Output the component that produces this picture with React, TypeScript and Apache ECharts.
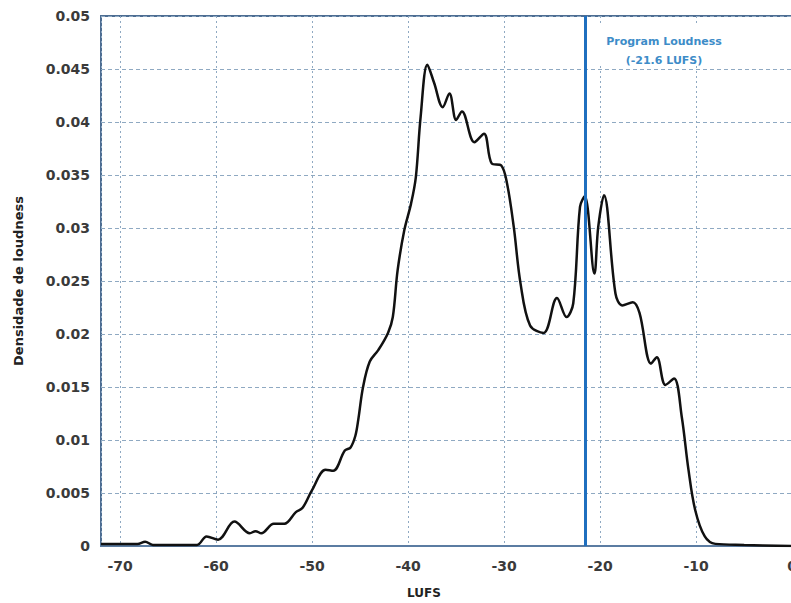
import React, { useEffect, useRef } from "react";
import * as echarts from "echarts";

const lufs = [
  -72, -70, -68.2, -67.4, -66.6, -64, -62, -61.0, -59.8, -58.1, -56.5, -55.9, -55.3, -54.0, -52.9,
  -51.7, -51.0, -50.0, -48.6, -47.8, -46.6, -46.0, -45.5, -45.2, -44.7, -44.0, -43.1, -42.1, -41.6,
  -41.1, -40.4, -39.7, -39.2, -38.7, -38.0, -37.3, -36.4, -35.7, -35.0, -34.4, -33.1, -32.1, -31.3,
  -30.3, -29.7, -29.0, -28.3, -27.3, -25.9, -24.5, -23.5, -22.8, -22.1, -21.6, -20.6, -20.2, -19.6,
  -18.4, -17.7, -16.6, -15.9, -14.7, -14.1, -13.2, -12.3, -11.5, -10.8, -10.1, -9.1, -8.0, -5, 0,
];
const density = [
  0.0002, 0.0002, 0.0002, 0.0004, 0.0001, 0.0001, 0.0001, 0.0009, 0.0006, 0.0023, 0.0012, 0.0014, 0.0012, 0.0021, 0.0021,
  0.0032, 0.0036, 0.0053, 0.0072, 0.0071, 0.009, 0.0093, 0.0104, 0.0119, 0.015, 0.0174, 0.0185, 0.0201, 0.0216,
  0.026, 0.0298, 0.0323, 0.0348, 0.0405, 0.0454, 0.0437, 0.0414, 0.0427, 0.0402, 0.041, 0.0381, 0.0389, 0.0361,
  0.0359, 0.0342, 0.0301, 0.0248, 0.0208, 0.0201, 0.0234, 0.0216, 0.0229, 0.032, 0.033, 0.0257, 0.0301, 0.0331,
  0.0238, 0.0227, 0.023, 0.022, 0.0172, 0.0178, 0.0152, 0.0158, 0.0122, 0.0072, 0.0034, 0.0009, 0.0002, 0.0001, 0.0,
];
const programLoudness = -21.6;
const annotationLines = ["Program Loudness", "(-21.6 LUFS)"];
const xTitle = "LUFS";
const yTitle = "Densidade de loudness";

export default function App() {
  const ref = useRef<HTMLDivElement>(null);
  useEffect(() => {
    if (!ref.current) return;
    const chart = echarts.init(ref.current, null, { renderer: "svg" });
    const font = "DejaVu Sans";
    chart.setOption({
      animation: false,
      backgroundColor: "#ffffff",
      grid: {
        left: 101,
        right: 2,
        top: 16,
        bottom: 57,
        show: true,
        borderColor: "#4d6d92",
        borderWidth: 2,
      },
      xAxis: {
        type: "value",
        min: -72,
        max: 0,
        axisLine: { show: true, lineStyle: { color: "#5b7ca2", width: 2 } },
        axisTick: { show: false },
        axisLabel: {
          showMinLabel: false,
          margin: 13,
          color: "#3a3a3a",
          fontFamily: font,
          fontWeight: "bold",
          fontSize: 14,
          formatter: (v: number) => (Math.round(v) % 10 === 0 ? String(Math.round(v)) : ""),
        },
        splitLine: {
          show: true,
          lineStyle: { color: "#8fa9c2", width: 1, type: [2, 3] },
        },
      },
      yAxis: {
        type: "value",
        min: 0,
        max: 0.05,
        interval: 0.005,
        name: yTitle,
        nameLocation: "middle",
        nameGap: 76,
        nameTextStyle: {
          fontFamily: font,
          fontWeight: "bold",
          fontSize: 13,
          color: "#222222",
        },
        axisLine: { show: true, lineStyle: { color: "#4d6d92", width: 2 } },
        axisTick: { show: false },
        axisLabel: {
          margin: 11,
          color: "#3a3a3a",
          fontFamily: font,
          fontWeight: "bold",
          fontSize: 14,
          formatter: (v: number) => String(parseFloat(v.toFixed(3))),
        },
        splitLine: {
          show: true,
          lineStyle: { color: "#8fa9c2", width: 1, type: [4, 3] },
        },
      },
      series: [
        {
          type: "line",
          data: lufs.map((x, i) => [x, density[i]]),
          smooth: 0.35,
          showSymbol: false,
          lineStyle: { color: "#111111", width: 2.5 },
          markLine: {
            silent: true,
            symbol: "none",
            label: { show: false },
            lineStyle: { color: "#1f6fbf", width: 3, type: "solid" },
            data: [{ xAxis: programLoudness }],
          },
        },
      ],
      graphic: [
        {
          type: "rect",
          z: 10,
          shape: { x: 595, y: 25, width: 135, height: 41 },
          style: { fill: "#ffffff" },
        },
        {
          type: "text",
          z: 11,
          x: 664,
          y: 41,
          style: {
            text: annotationLines[0],
            fill: "#3d8cc8",
            font: `bold 11px ${font}`,
            align: "center",
            verticalAlign: "middle",
          },
        },
        {
          type: "text",
          z: 11,
          x: 664,
          y: 60,
          style: {
            text: annotationLines[1],
            fill: "#3d8cc8",
            font: `bold 11px ${font}`,
            align: "center",
            verticalAlign: "middle",
          },
        },
        {
          type: "text",
          z: 11,
          x: 424,
          y: 593,
          style: {
            text: xTitle,
            fill: "#222222",
            font: `bold 12px ${font}`,
            align: "center",
            verticalAlign: "middle",
          },
        },
      ],
    });
    return () => chart.dispose();
  }, []);
  return (
    <div
      style={{
        position: "fixed",
        left: 0,
        top: 0,
        width: 791,
        height: 603,
        overflow: "hidden",
        background: "#ffffff",
      }}
    >
      <div ref={ref} style={{ width: 800, height: 603 }} />
    </div>
  );
}
